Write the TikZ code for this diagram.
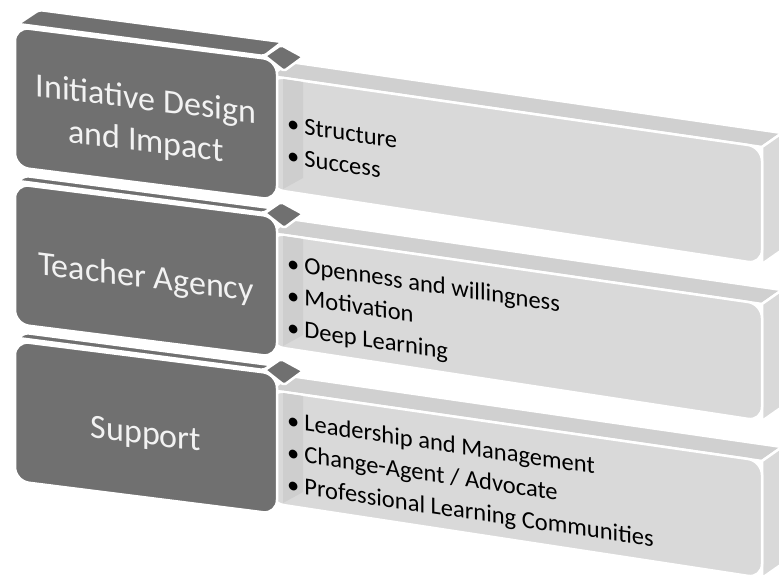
\documentclass[tikz,border=0pt]{standalone}
\usepackage{fontspec}
\setmainfont{Carlito}
\definecolor{cDark}{RGB}{112,112,112}
\definecolor{cFront}{RGB}{217,217,217}
\definecolor{cTop}{RGB}{208,208,208}
\definecolor{cSide}{RGB}{206,206,206}
\definecolor{cLabel}{RGB}{242,242,242}
\tikzset{
    face/.style={draw=white, line width=2.5pt, line join=round},
    darkface/.style={face, fill=cDark},
    lightface/.style={face, fill=cFront},
    lighttop/.style={face, fill=cTop},
    headtext/.style={text=cLabel, font=\fontsize{34}{42}\selectfont, align=center, yslant=-0.126, inner sep=0pt},
    itemtext/.style={text=black, font=\fontsize{24.5}{32}\selectfont, align=left, yslant=-0.148, inner sep=0pt, anchor=west},
}
\newcommand{\bul}{\textbullet\hspace{5pt}}

\begin{document}
\begin{tikzpicture}[x=1pt, y=-1pt]
    \clip (0,0) rectangle (779,575);
    \fill[white] (0,0) rectangle (779,575);
    % rows from the bottom one up, so each row hides the back of the one below
    \foreach \k/\d/\head/\items in {
        2/5/{Support}/{\bul Leadership and Management\\\bul Change-Agent / Advocate\\\bul Professional Learning Communities},
        1/5/{Teacher Agency}/{\bul Openness and willingness\\\bul Motivation\\\bul Deep Learning},
        0/14/{Initiative Design\\and Impact}/{\bul Structure\\\bul Success}}{
        \begin{scope}[shift={(0,\k*157)}]
            % light box: top, right side, front
            \draw[lighttop] (270,76) -- (290,62) -- (782,133) -- (762,147) -- cycle;
            \draw[lightface] (762,147) -- (782,133) -- (782,250) -- (762,264) -- cycle;
            \draw[lightface, rounded corners=14pt] (270,76) -- (762,147) -- (762,264) -- (270,189) -- cycle;
            \fill[cSide] (283,79) -- (303,82) -- (303,178) -- (283,189) -- cycle;
            % joint between the two boxes
            \draw[darkface, rounded corners=2pt] (265,56) -- (281,45) -- (303,57) -- (284,71) -- cycle;
            % dark box: top and front
            \draw[darkface, rounded corners=3pt] (18,24) -- ({18+1.5*\d},{24-\d}) -- ({264+1.3*\d},{56-\d}) -- (264,56) -- cycle;
            \draw[darkface, rounded corners=14pt] (15,27) -- (277,60) -- (277,200) -- (15,167) -- cycle;
            \node[headtext] (head\k) at (146,122) {\head};
            \node[itemtext] (items\k) at (287,140) {\items};
        \end{scope}
    }
\end{tikzpicture}
\end{document}
